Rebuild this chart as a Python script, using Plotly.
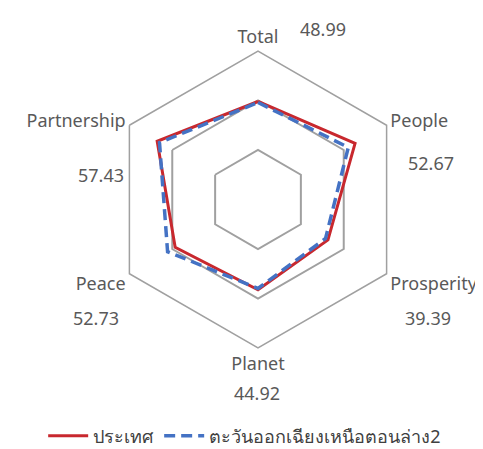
import plotly.graph_objects as go

W, H = 483, 449

# categories and the value printed beside each one
categories = ['Total', 'People', 'Prosperity', 'Planet', 'Peace', 'Partnership']
label_values = ['48.99', '52.67', '39.39', '44.92', '52.73', '57.43']

# series
country = [49.5, 56.6, 40.8, 45.6, 48.3, 58.8]      # ประเทศ
region = [48.99, 52.67, 39.39, 44.92, 52.73, 57.43]  # ตะวันออกเฉียงเหนือตอนล่าง2

# where the value texts sit (pixels in the 483x449 page)
value_pos = [(315, 21), (423, 155), (420, 310), (249, 385), (88, 310), (93, 167)]

fig = go.Figure()
fig.add_trace(go.Scatterpolar(
    r=country + country[:1], theta=categories + categories[:1],
    mode='lines', name='ประเทศ',
    line=dict(color='#C8282E', width=3)))
fig.add_trace(go.Scatterpolar(
    r=region + region[:1], theta=categories + categories[:1],
    mode='lines', name='ตะวันออกเฉียงเหนือตอนล่าง2',
    line=dict(color='#4472C4', width=3.5, dash='11px,6px')))

for txt, (px, py) in zip(label_values, value_pos):
    fig.add_annotation(text=txt, x=px / W, y=1 - py / H, xref='paper', yref='paper',
                       showarrow=False, xanchor='center', yanchor='middle',
                       font=dict(size=18, color='#595959'))

fig.update_layout(
    width=W, height=H,
    margin=dict(l=0, r=0, t=0, b=0),
    paper_bgcolor='#ffffff',
    font=dict(family='Noto Sans, sans-serif', size=18, color='#595959'),
    polar=dict(
        domain=dict(x=[101.5 / W, 398.5 / W], y=[109 / H, 406 / H]),
        bgcolor='#ffffff',
        gridshape='linear',
        radialaxis=dict(range=[0, 75], tickvals=[25, 50, 75], showticklabels=False,
                        ticks='', showline=False, gridcolor='#a0a0a0', gridwidth=1.5),
        angularaxis=dict(rotation=90, direction='clockwise', showgrid=False,
                         linecolor='#a0a0a0', linewidth=1.5, ticks='',
                         tickfont=dict(size=18, color='#595959')),
    ),
    showlegend=True,
    legend=dict(orientation='h', x=0.49, xanchor='center', y=1 - 428 / H, yanchor='middle',
                font=dict(size=18, color='#404040'), itemwidth=40),
)

fig.write_html('out.html')
